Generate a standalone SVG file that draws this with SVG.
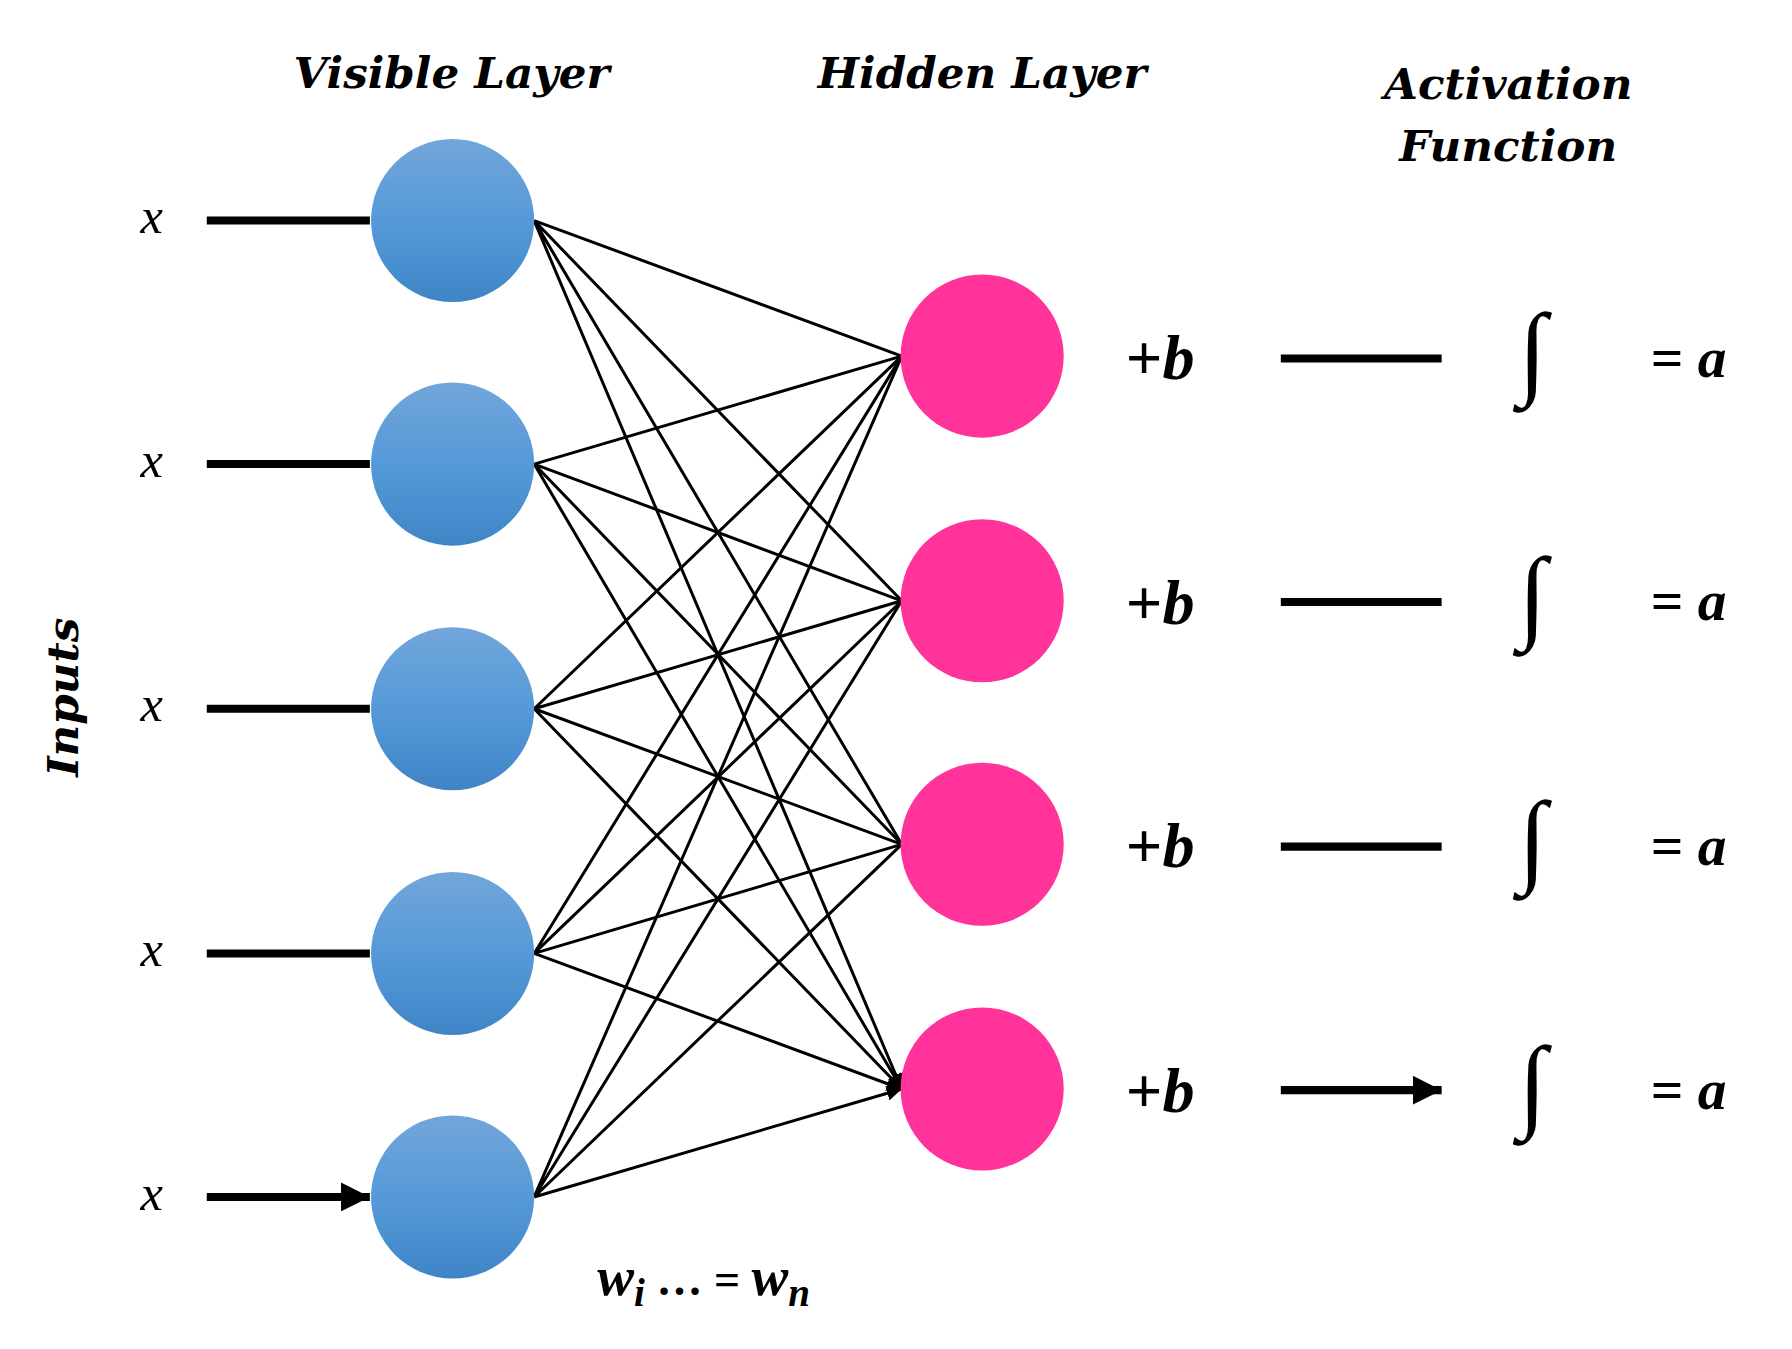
<svg xmlns="http://www.w3.org/2000/svg" width="1792" height="1349" viewBox="0 0 1792 1349">
<style>
.t{font-family:"DejaVu Serif","Liberation Serif",serif;font-weight:bold;font-style:italic;fill:#000}
.m{font-family:"Liberation Serif","DejaVu Serif",serif;fill:#000}
.c{stroke:#000;stroke-width:2.6;fill:none;marker-end:url(#sa)}
.th{stroke:#000;stroke-width:7;fill:none;marker-end:url(#ba)}
</style>
<defs>
<linearGradient id="bg" x1="0" y1="0" x2="0" y2="1"><stop offset="0" stop-color="#72a6da"/><stop offset="0.5" stop-color="#5599d8"/><stop offset="1" stop-color="#3f85c6"/></linearGradient>
<marker id="sa" viewBox="0 0 10 10" refX="10" refY="5" markerWidth="5" markerHeight="5" orient="auto" markerUnits="strokeWidth"><path d="M0,0L10,5L0,10z"/></marker>
<marker id="ba" viewBox="0 0 10 10" refX="10" refY="5" markerWidth="3.6" markerHeight="3.6" orient="auto" markerUnits="strokeWidth"><path d="M0,0L10,5L0,10z"/></marker>
</defs>
<rect width="1792" height="1349" fill="#fff"/>
<g transform="scale(1.14872)">
<g id="connectors">
<path class="th" d="M180,192H322M180,404H322M180,617H322M180,830H322M180,1042H322"/>
<path class="th" d="M1115,312H1255M1115,524H1255M1115,737H1255M1115,949H1255"/>
<path class="c" d="M465,192L785,310M465,192L785,523M465,192L785,735M465,192L785,948"/>
<path class="c" d="M465,404L785,310M465,404L785,523M465,404L785,735M465,404L785,948"/>
<path class="c" d="M465,617L785,310M465,617L785,523M465,617L785,735M465,617L785,948"/>
<path class="c" d="M465,830L785,310M465,830L785,523M465,830L785,735M465,830L785,948"/>
<path class="c" d="M465,1042L785,310M465,1042L785,523M465,1042L785,735M465,1042L785,948"/>
</g>
<g id="v1"><circle cx="394" cy="192" r="71" fill="url(#bg)"/></g>
<g id="v2"><circle cx="394" cy="404" r="71" fill="url(#bg)"/></g>
<g id="v3"><circle cx="394" cy="617" r="71" fill="url(#bg)"/></g>
<g id="v4"><circle cx="394" cy="830" r="71" fill="url(#bg)"/></g>
<g id="v5"><circle cx="394" cy="1042" r="71" fill="url(#bg)"/></g>
<g id="h1"><circle cx="855" cy="310" r="71" fill="#ff3399"/></g>
<g id="h2"><circle cx="855" cy="523" r="71" fill="#ff3399"/></g>
<g id="h3"><circle cx="855" cy="735" r="71" fill="#ff3399"/></g>
<g id="h4"><circle cx="855" cy="948" r="71" fill="#ff3399"/></g>
<g id="labels">
<text class="t" x="393" y="77" font-size="38" text-anchor="middle">Visible Layer</text>
<text class="t" x="855" y="77" font-size="38" text-anchor="middle">Hidden Layer</text>
<text class="t" x="1313" y="86" font-size="38" text-anchor="middle">Activation</text>
<text class="t" x="1313" y="140" font-size="38" text-anchor="middle">Function</text>
<text class="t" x="0" y="0" font-size="38" text-anchor="middle" transform="translate(68,607) rotate(-90)">Inputs</text>
<g class="m" font-size="44" font-style="italic" text-anchor="middle">
<text x="132" y="203">x</text><text x="132" y="415">x</text><text x="132" y="628">x</text><text x="132" y="841">x</text><text x="132" y="1053">x</text>
</g>
<g class="m" font-size="56" font-weight="bold">
<text x="980" y="330">+<tspan font-style="italic">b</tspan></text>
<text x="980" y="543">+<tspan font-style="italic">b</tspan></text>
<text x="980" y="755">+<tspan font-style="italic">b</tspan></text>
<text x="980" y="968">+<tspan font-style="italic">b</tspan></text>
</g>
<g class="m" font-size="50" font-weight="bold">
<text x="1437" y="328">= <tspan font-style="italic">a</tspan></text>
<text x="1437" y="540">= <tspan font-style="italic">a</tspan></text>
<text x="1437" y="753">= <tspan font-style="italic">a</tspan></text>
<text x="1437" y="965">= <tspan font-style="italic">a</tspan></text>
</g>
<g class="m" font-size="90" text-anchor="middle">
<text x="1334" y="335">∫</text><text x="1334" y="548">∫</text><text x="1334" y="760">∫</text><text x="1334" y="973">∫</text>
</g>
<text class="m" x="520" y="1127" font-size="48" font-weight="bold"><tspan font-style="italic">w</tspan><tspan font-style="italic" font-size="34" dy="10">i</tspan><tspan dy="-10" font-size="40"> … = </tspan><tspan font-style="italic">w</tspan><tspan font-style="italic" font-size="34" dy="10">n</tspan></text>
</g>
</g>
</svg>
